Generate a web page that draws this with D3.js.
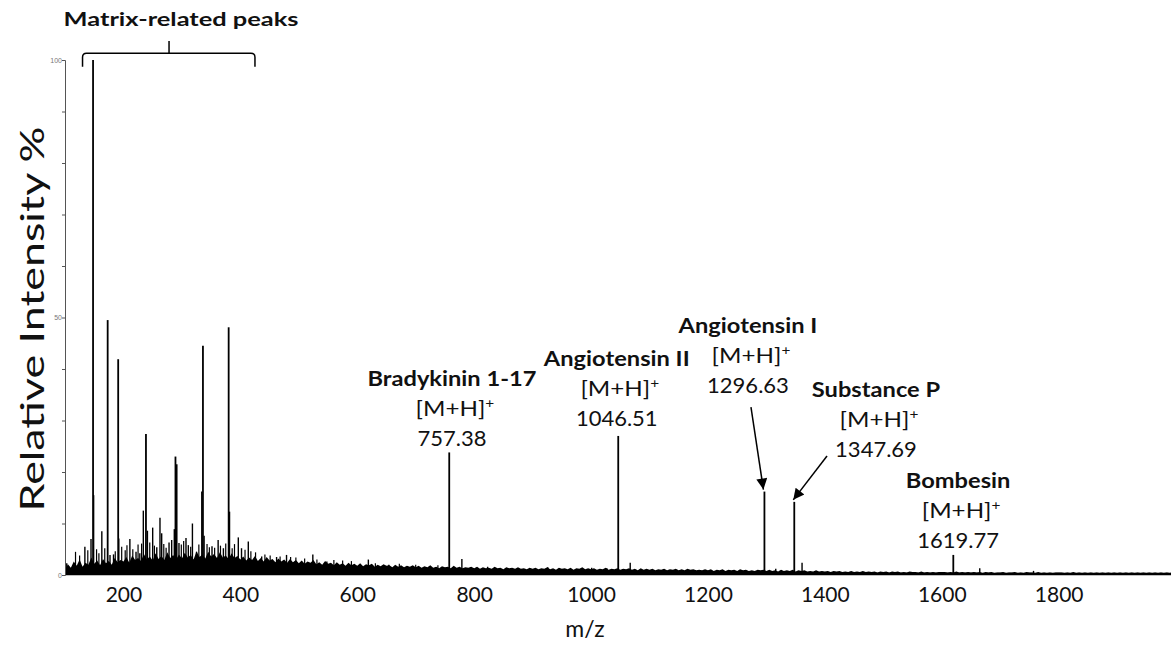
<!DOCTYPE html>
<html><head><meta charset="utf-8">
<script src="https://cdn.jsdelivr.net/npm/d3@7"></script>
<style>body{margin:0;background:#fff;} svg{display:block;font-family:Lato,"Open Sans",sans-serif;}</style>
</head><body><svg id="chart" width="1171" height="648"></svg>
<script>
// ---- data (m/z, relative intensity %) ----
const noiseStartMz = 100;
const noiseStepMz = 5;
const noise = [
 1.0,2.1,1.4,2.6,1.8,3.0,1.6,2.4,2.0,3.4,2.2,2.8,1.9,3.1,2.3,2.7,2.0,3.3,2.5,2.9,
 2.6,3.5,2.4,3.8,2.9,3.3,2.7,4.1,3.0,3.6,2.8,4.2,3.1,3.7,2.9,4.4,3.3,3.9,3.0,4.0,
 3.2,4.3,3.4,3.9,3.0,4.6,3.5,4.0,3.2,4.5,3.6,4.1,3.3,4.4,3.4,3.8,3.1,4.2,3.3,3.7,
 3.0,3.6,2.8,3.4,2.9,3.7,2.7,3.3,2.6,3.5,2.8,3.1,2.5,3.2,2.6,3.0,2.4,3.1,2.5,2.9,
 2.3,2.8,2.2,2.6,2.4,2.9,2.1,2.5,2.0,2.7,2.2,2.4,1.9,2.5,2.0,2.3,1.8,2.4,1.9,2.2,
 1.8,2.3,1.7,2.1,1.9,2.2,1.6,2.0,1.7,2.1,1.8,1.9,1.5,2.0,1.6,1.9,1.5,1.8,1.6,1.9,
 1.5,1.8,1.4,1.7,1.5,1.9,1.4,1.6,1.3,1.7,1.5,1.6,1.3,1.8,1.4,1.6,1.3,1.5,1.4,1.6,
 1.3,1.6,1.2,1.5,1.3,1.4,1.2,1.6,1.3,1.4,1.1,1.5,1.3,1.4,1.2,1.5,1.2,1.3,1.1,1.4,
 1.2,1.4,1.1,1.3,1.2,1.5,1.1,1.3,1.0,1.4,1.2,1.3,1.1,1.4,1.0,1.3,1.2,1.5,1.1,1.3,
 1.1,1.3,1.0,1.2,1.1,1.4,1.0,1.2,1.1,1.3,1.0,1.2,1.1,1.3,1.0,1.2,0.9,1.3,1.0,1.2,
 1.0,1.2,0.9,1.1,1.0,1.2,0.9,1.1,1.0,1.2,0.9,1.1,0.9,1.2,1.0,1.1,0.9,1.0,0.9,1.1,
 0.9,1.1,0.8,1.0,0.9,1.1,0.8,1.0,0.9,1.0,0.8,1.1,0.9,1.0,0.8,0.9,0.8,1.0,0.9,1.0,
 0.8,1.0,0.8,0.9,0.7,1.0,0.8,0.9,0.8,1.0,0.7,0.9,0.8,0.9,0.7,0.8,0.7,0.9,0.7,0.8,
 0.7,0.8,0.6,0.8,0.7,0.8,0.6,0.7,0.6,0.8,0.6,0.7,0.6,0.8,0.6,0.7,0.6,0.7,0.5,0.7,
 0.6,0.7,0.5,0.7,0.6,0.7,0.5,0.6,0.5,0.7,0.6,0.6,0.5,0.7,0.5,0.6,0.5,0.6,0.5,0.6,
 0.6,0.6,0.5,0.6,0.5,0.7,0.5,0.6,0.5,0.6,0.5,0.6,0.5,0.6,0.4,0.6,0.5,0.6,0.4,0.5,
 0.5,0.6,0.4,0.5,0.5,0.6,0.4,0.5,0.4,0.6,0.5,0.5,0.4,0.6,0.4,0.5,0.4,0.5,0.4,0.5,
 0.5,0.5,0.4,0.5,0.4,0.6,0.4,0.5,0.4,0.5,0.4,0.5,0.4,0.5,0.4,0.5,0.4,0.5,0.4,0.5,
 0.4,0.5,0.4,0.5,0.4,0.5,0.4,0.5,0.4,0.5,0.4,0.5,0.4,0.5,0.4,0.5,0.4,0.5,0.4,0.5,0.4
];
const matrixPeaks = [
 [148,100],[173,49.5],[191,41.9],[238.5,27.4],[289,23.0],[291,21.5],[336,44.5],[380,48.1]
];
const minorPeaks = [
 [103,2.3],[134,5.5],[144.5,7.0],[149,15.5],[163,8.5],[177,3.9],[183,4.0],[192,7.1],
 [211,7.0],[221.5,4.5],[228,4.2],[234,12.5],[241,8.6],[250,9.2],[257,5.4],[262.5,11.1],
 [265.4,8.1],[278,6.3],[282.5,6.8],[287,8.9],[295,6.2],[307,7.2],[311,5.8],[318,10.0],
 [325,4.5],[334,16.2],[338,7.6],[351.5,5.6],[362,6.8],[371,5.2],[381.5,12.3],[396.5,7.3],
 [402,5.2],[413.6,6.5],[436.5,3.6],[462,3.5],[479,3.9],[524,4.0],[548,2.6],[619,3.0],
 [654,2.0],[779,3.1],[823,1.6],[926,1.5],[1001,1.4],[1027,1.3],[1067,2.4],[1316,1.2],
 [1361,2.4],[1665,1.3],[1757,0.8]
];
const grassPeaks = [
 [118,4.5],[125,3.8],[139,4.8],[154,5.0],[158,4.2],[168,5.2],[186,4.6],[197,5.5],
 [203,4.8],[206,5.8],[216,5.0],[225,5.9],[231,6.1],[245,6.3],[253,5.7],[269,6.0],
 [273,5.3],[299,5.9],[303,6.6],[315,5.5],[329,5.9],[343,6.0],[347,5.4],[356,5.3],
 [366,5.7],[375,6.1],[386,5.2],[390,6.0],[408,4.9],[418,4.6],[426,4.4],[442,4.0],
 [451,3.8],[468,3.6],[486,3.5],[495,3.4],[510,3.2],[531,3.0],[560,2.9],[575,2.8],
 [590,2.7],[631,2.3],[672,2.2],[700,2.0],[738,1.9]
];
const analytePeaks = [
 [757.38,23.8],[1046.51,27.0],[1296.63,16.2],[1347.69,14.2],[1619.77,3.9]
];
const xTickValues = [200,400,600,800,1000,1200,1400,1600,1800];
const yTickValues = [0,10,20,30,40,50,60,70,80,90,100];
const yTickLabels = ["0","","","","","50","","","","","100"];
const peptideNames = ["Bradykinin 1-17","Angiotensin II","Angiotensin I","Substance P","Bombesin"];
const peptideMasses = ["757.38","1046.51","1296.63","1347.69","1619.77"];
const ionLabel = "[M+H]";
const matrixLabel = "Matrix-related peaks";
const xTitle = "m/z";
const yTitle = "Relative Intensity %";

// ---- layout (data coordinates for annotations) ----
const labelAnchors = [ // [mz centre, intensity of first baseline]
 [762,36.7],[1044,40.6],[1268.5,47.0],[1487.5,34.6],[1628,16.9]
];
const arrowStarts = [null,null,[1273.6,32.6],[1403.7,23.1],null];
const bracket = {from:130, to:425, mid:278, bar:101.3, ends:98.7, top:103.7};

const svg = d3.select("#chart");
const x = d3.scaleLinear().domain([100,2000]).range([65, 65 + 1900*0.5845]);
const y = d3.scaleLinear().domain([0,100]).range([575, 60]);

function stretch(sel, factor){
  const L = sel.node().getComputedTextLength();
  sel.attr("textLength", L*factor).attr("lengthAdjust","spacingAndGlyphs");
}

// noise baseline
const noisePts = noise.map((v,i)=>[noiseStartMz + i*noiseStepMz, v]);
svg.append("path")
  .datum(noisePts)
  .attr("fill","#000")
  .attr("d", d3.area().x(d=>x(d[0])).y0(y(0)).y1(d=>y(d[1])));
svg.append("line").attr("x1",x(100)).attr("x2",x(2000)).attr("y1",y(0)-1).attr("y2",y(0)-1)
  .attr("stroke","#000").attr("stroke-width",2.5);

// peaks
function drawSticks(data, w){
  svg.append("g").selectAll("line").data(data).join("line")
    .attr("x1",d=>x(d[0])).attr("x2",d=>x(d[0]))
    .attr("y1",y(0)).attr("y2",d=>y(d[1]))
    .attr("stroke","#000").attr("stroke-width",w);
}
drawSticks(grassPeaks,1.2);
drawSticks(minorPeaks,1.4);
drawSticks(matrixPeaks,1.8);
drawSticks(analytePeaks,1.8);

// y axis
const yAxis = svg.append("g").attr("transform",`translate(${x(100)},0)`)
  .call(d3.axisLeft(y).tickValues(yTickValues).tickSize(3).tickFormat((d,i)=>yTickLabels[i]));
yAxis.select(".domain").attr("stroke","#555");
yAxis.selectAll(".tick line").attr("stroke","#555");
yAxis.selectAll(".tick text").attr("font-size",7).attr("fill","#777").attr("x",-3)
  .attr("font-family","Liberation Sans, sans-serif");

// x axis labels
const xAxis = svg.append("g").attr("transform",`translate(0,${y(0)})`)
  .call(d3.axisBottom(x).tickValues(xTickValues).tickSize(0).tickPadding(12).tickFormat(d3.format("d")));
xAxis.select(".domain").remove();
xAxis.selectAll(".tick text").attr("font-size",21).attr("fill","#111")
  .attr("font-family","Lato, sans-serif");

// titles
svg.append("text").attr("x",585).attr("y",637).attr("text-anchor","middle")
  .attr("font-size",23).attr("fill","#111").text(xTitle);
const yt = svg.append("text").attr("transform","translate(44,319) rotate(-90)").attr("text-anchor","middle")
  .attr("font-size",33).attr("fill","#111").text(yTitle);
yt.attr("textLength",385).attr("lengthAdjust","spacingAndGlyphs");

// matrix bracket
const bx0 = x(bracket.from), bx1 = x(bracket.to), bm = x(bracket.mid);
const by = y(bracket.bar), be = y(bracket.ends), bt = y(bracket.top), r = 4;
svg.append("path").attr("fill","none").attr("stroke","#000").attr("stroke-width",1.5)
  .attr("d",`M${bx0},${be} L${bx0},${by+r} Q${bx0},${by} ${bx0+r},${by} L${bx1-r},${by} Q${bx1},${by} ${bx1},${by+r} L${bx1},${be} M${bm},${by} L${bm},${bt}`);
const ml = svg.append("text").attr("x",bx0-19).attr("y",26).attr("font-weight","bold")
  .attr("font-size",19).attr("fill","#111").text(matrixLabel);
ml.attr("textLength",235).attr("lengthAdjust","spacingAndGlyphs");

// peptide annotations
svg.append("defs").append("marker").attr("id","ah").attr("viewBox","0 0 10 10")
  .attr("refX",10).attr("refY",5).attr("markerWidth",13).attr("markerHeight",11)
  .attr("markerUnits","userSpaceOnUse").attr("orient","auto")
  .append("path").attr("d","M0,0 L10,5 L0,10 Z").attr("fill","#000");

const lineGap = 30;
peptideNames.forEach((name,i)=>{
  const cx = x(labelAnchors[i][0]), by0 = y(labelAnchors[i][1]);
  const g = svg.append("g").attr("text-anchor","middle").attr("fill","#111");
  const nt = g.append("text").attr("x",cx).attr("y",by0).attr("font-weight","bold").attr("font-size",21.5).text(name);
  stretch(nt,1.1);
  const t = g.append("text").attr("x",cx+3).attr("y",by0+lineGap).attr("font-size",22);
  t.append("tspan").text(ionLabel);
  t.append("tspan").attr("font-size",14).attr("dy",-8).text("+");
  stretch(t,1.1);
  g.append("text").attr("x",cx).attr("y",by0+2*lineGap).attr("font-size",22).text(peptideMasses[i]);
  if(arrowStarts[i]){
    svg.append("line").attr("x1",x(arrowStarts[i][0])).attr("y1",y(arrowStarts[i][1]))
      .attr("x2",x(analytePeaks[i][0])-1).attr("y2",y(analytePeaks[i][1])-2)
      .attr("stroke","#000").attr("stroke-width",1.5).attr("marker-end","url(#ah)");
  }
});
</script></body></html>
